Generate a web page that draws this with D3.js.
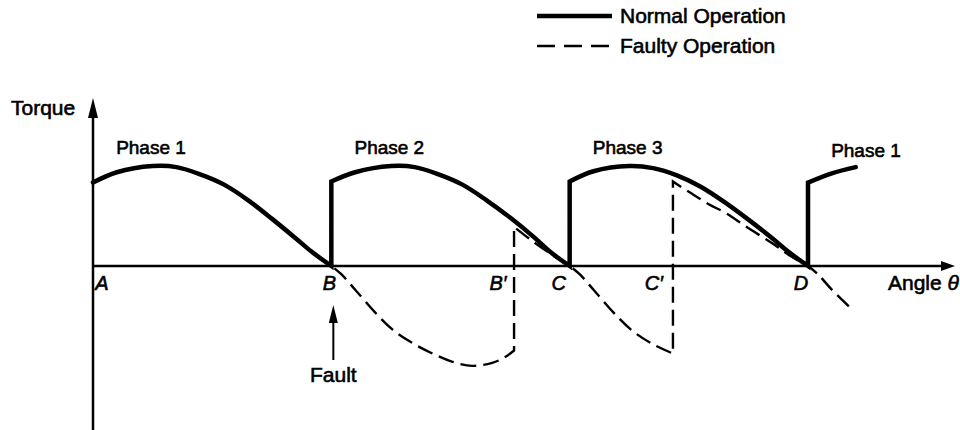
<!DOCTYPE html>
<html>
<head>
<meta charset="utf-8">
<script src="https://cdn.jsdelivr.net/npm/d3@7"></script>
<style>
body{margin:0;background:#fff;}
text{font-family:"Liberation Sans",Arial,sans-serif;font-size:21px;fill:#000;stroke:#000;stroke-width:0.6px;}
.phase{font-size:19px;}
.pt{font-style:italic;font-size:20px;}
</style>
</head>
<body>
<div id="chart"></div>
<script>
// angle in electrical degrees (A=0, B=120, C=240, D=360), torque relative to peak
var phaseNames = ["Phase 1", "Phase 2", "Phase 3", "Phase 1"];
var phaseStart = [0, 120, 240, 360];

var pointNames = ["A", "B", "B\u2032", "C", "C\u2032", "D"];
var pointAngle = [0, 120, 212, 240, 292, 360];

// normal operation, one arc per phase
var normal1Angle = [0, 12, 30, 42, 54, 66, 78, 90, 102, 110, 120];
var normal1Torque = [0.81, 0.91, 0.97, 0.96, 0.89, 0.79, 0.64, 0.46, 0.27, 0.14, 0];
var normal2Angle = [120, 132, 150, 162, 174, 186, 198, 210, 222, 230, 240];
var normal2Torque = [0.82, 0.91, 0.97, 0.96, 0.89, 0.79, 0.64, 0.47, 0.28, 0.14, 0];
var normal3Angle = [240, 252, 270, 282, 294, 306, 318, 330, 342, 350, 360];
var normal3Torque = [0.82, 0.92, 0.97, 0.95, 0.88, 0.77, 0.62, 0.45, 0.27, 0.14, 0];
var normal4Angle = [360, 372, 384];
var normal4Torque = [0.81, 0.90, 0.96];

// faulty operation, starting at the fault (B)
var fault1Angle = [120, 125, 132, 142, 151, 161, 171, 181, 191, 201, 207, 212];
var fault1Torque = [0, -0.08, -0.23, -0.45, -0.62, -0.75, -0.85, -0.93, -0.97, -0.94, -0.89, -0.82];
var fault2Angle = [212, 220, 228, 235, 240];
var fault2Torque = [0.38, 0.26, 0.15, 0.06, 0];
var fault3Angle = [240, 245, 252, 262, 271, 281, 292];
var fault3Torque = [0, -0.08, -0.23, -0.45, -0.62, -0.75, -0.85];
var fault4Angle = [292, 300, 310, 319, 329, 342, 351, 360];
var fault4Torque = [0.82, 0.72, 0.60, 0.51, 0.38, 0.22, 0.10, 0];
var fault5Angle = [360, 365, 372, 381];
var fault5Torque = [0, -0.08, -0.23, -0.40];

var width = 960, height = 430;

var svg = d3.select("#chart")
    .append("svg")
    .attr("width", width)
    .attr("height", height);

var x = d3.scaleLinear().domain([0, 360]).range([93, 808]);
var y = d3.scaleLinear().domain([0, 1]).range([266, 163]);

var xEnd = x.invert(955);
var yTop = y.invert(98), yBottom = y.invert(432);

function zip(a, t) { return a.map(function(d, i) { return [d, t[i]]; }); }

var line = d3.line()
    .x(function(d) { return x(d[0]); })
    .y(function(d) { return y(d[1]); })
    .curve(d3.curveCatmullRom.alpha(0.5));

// join arcs into one path, jumps become straight vertical steps
function joined(segs) {
    return segs.map(function(s, i) {
        var p = line(s);
        return i === 0 ? p : p.replace(/^M/, "L");
    }).join("");
}

// axes
svg.append("line")
    .attr("x1", x(0)).attr("x2", x(xEnd) - 8)
    .attr("y1", y(0)).attr("y2", y(0))
    .attr("stroke", "#000").attr("stroke-width", 2.5);
svg.append("line")
    .attr("x1", x(0)).attr("x2", x(0))
    .attr("y1", y(yBottom)).attr("y2", y(yTop) + 8)
    .attr("stroke", "#000").attr("stroke-width", 2.5);

svg.append("path")
    .attr("d", "M" + x(xEnd) + "," + y(0) + "L" + (x(xEnd) - 14) + "," + (y(0) - 5) +
               "L" + (x(xEnd) - 14) + "," + (y(0) + 5) + "Z")
    .attr("fill", "#000");
svg.append("path")
    .attr("d", "M" + x(0) + "," + y(yTop) + "L" + (x(0) - 5) + "," + (y(yTop) + 20) +
               "L" + (x(0) + 5) + "," + (y(yTop) + 20) + "Z")
    .attr("fill", "#000");

svg.append("text").attr("x", 11).attr("y", 115).text("Torque");

var angleLabel = svg.append("text").attr("x", 888).attr("y", 290);
angleLabel.append("tspan").text("Angle ");
angleLabel.append("tspan").attr("font-style", "italic").text("\u03b8");

// curves
svg.append("path")
    .attr("d", joined([zip(normal1Angle, normal1Torque), zip(normal2Angle, normal2Torque),
                       zip(normal3Angle, normal3Torque), zip(normal4Angle, normal4Torque)]))
    .attr("fill", "none")
    .attr("stroke", "#000")
    .attr("stroke-width", 4.5)
    .attr("stroke-linecap", "round");

svg.append("path")
    .attr("d", joined([zip(fault1Angle, fault1Torque), zip(fault2Angle, fault2Torque),
                       zip(fault3Angle, fault3Torque), zip(fault4Angle, fault4Torque),
                       zip(fault5Angle, fault5Torque)]))
    .attr("fill", "none")
    .attr("stroke", "#000")
    .attr("stroke-width", 2.4)
    .attr("stroke-dasharray", "16,7")
    .attr("stroke-dashoffset", -4);

// phase labels
svg.selectAll(".phase")
    .data(phaseNames)
    .enter()
    .append("text")
    .attr("class", "phase")
    .attr("text-anchor", "middle")
    .attr("x", function(d, i) { return x(phaseStart[i]) + 58; })
    .attr("y", function(d, i) { return i === 3 ? 157 : 154; })
    .text(function(d) { return d; });

// point labels under the axis
var labelDx = [9, -2, -16, -11, -19, -7];
svg.selectAll(".pt")
    .data(pointNames)
    .enter()
    .append("text")
    .attr("class", "pt")
    .attr("text-anchor", "middle")
    .attr("x", function(d, i) { return x(pointAngle[i]) + labelDx[i]; })
    .attr("y", 290)
    .text(function(d) { return d; });

// fault arrow
var fx = x(120) + 2;
svg.append("line")
    .attr("x1", fx).attr("x2", fx)
    .attr("y1", 360).attr("y2", 318)
    .attr("stroke", "#000").attr("stroke-width", 2);
svg.append("path")
    .attr("d", "M" + fx + ",305L" + (fx - 4.5) + ",323L" + (fx + 4.5) + ",323Z")
    .attr("fill", "#000");
svg.append("text")
    .attr("x", fx).attr("y", 382)
    .attr("text-anchor", "middle")
    .text("Fault");

// legend
var legend = svg.append("g");
legend.append("line")
    .attr("x1", 537).attr("x2", 612).attr("y1", 16).attr("y2", 16)
    .attr("stroke", "#000").attr("stroke-width", 4.5);
legend.append("line")
    .attr("x1", 537).attr("x2", 612).attr("y1", 46).attr("y2", 46)
    .attr("stroke", "#000").attr("stroke-width", 2.4)
    .attr("stroke-dasharray", "18,9");
legend.append("text").attr("x", 620).attr("y", 23).text("Normal Operation");
legend.append("text").attr("x", 620).attr("y", 53).text("Faulty Operation");
</script>
</body>
</html>
